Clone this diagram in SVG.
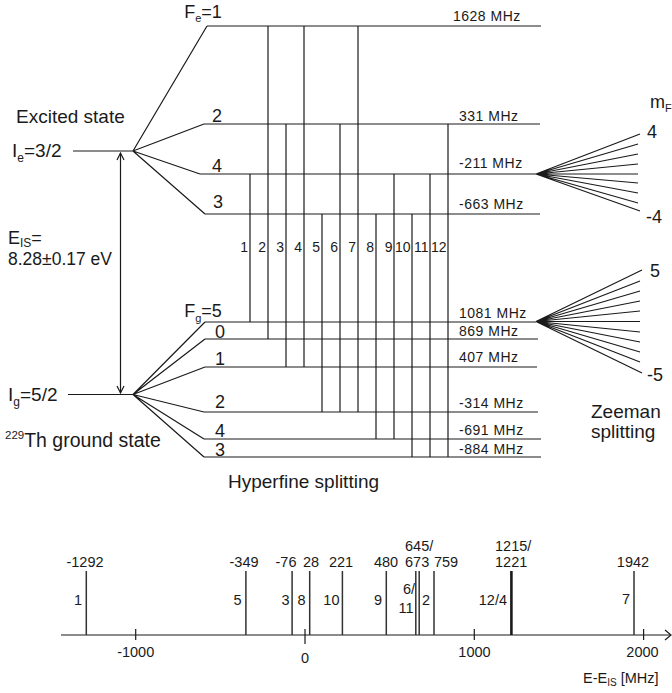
<svg xmlns="http://www.w3.org/2000/svg" width="672" height="693" viewBox="0 0 672 693">
<style>
  .ln{stroke:#1a1a1a;stroke-width:1.2;fill:none}
  .sp{stroke:#333;stroke-width:1.5;fill:none}
  text{font-family:"Liberation Sans",Arial,sans-serif;fill:#1a1a1a}
  .big{font-size:19px}
  .lvl{font-size:18px;text-anchor:middle}
  .mhz{font-size:14px;letter-spacing:0.5px}
  .num{font-size:14px;text-anchor:end}
  .ax{font-size:14.5px;text-anchor:middle}
  .sl{font-size:14.5px;text-anchor:end}
</style>
<rect width="672" height="693" fill="#fff"/>

<g id="excited-state">
  <text class="big" x="16" y="123">Excited state</text>
  <text class="big" x="12" y="157">I<tspan font-size="12" dy="5">e</tspan><tspan dy="-5">=3/2</tspan></text>
  <line class="ln" x1="73" y1="151" x2="133" y2="151"/>
  <path class="ln" d="M133,151 L207,26 M133,151 L204,124 M133,151 L200,174 M133,151 L205,214"/>
</g>

<g id="excited-F1">
  <line class="ln" x1="207" y1="26" x2="541" y2="26"/>
  <text class="lvl" x="203" y="18">F<tspan font-size="11" dy="4">e</tspan><tspan dy="-4">=1</tspan></text>
  <text class="mhz" x="453" y="21">1628 MHz</text>
</g>
<g id="excited-F2">
  <line class="ln" x1="204" y1="124" x2="540" y2="124"/>
  <text class="lvl" x="217" y="122">2</text>
  <text class="mhz" x="459" y="121">331 MHz</text>
</g>
<g id="excited-F4">
  <line class="ln" x1="200" y1="174" x2="536" y2="174"/>
  <text class="lvl" x="217" y="172">4</text>
  <text class="mhz" x="459" y="168">-211 MHz</text>
</g>
<g id="excited-F3">
  <line class="ln" x1="205" y1="214" x2="540" y2="214"/>
  <text class="lvl" x="218" y="208">3</text>
  <text class="mhz" x="459" y="209">-663 MHz</text>
</g>

<g id="isomer-energy">
  <line class="ln" x1="120.5" y1="153" x2="120.5" y2="393"/>
  <path class="ln" d="M117,160 L120.5,153 L124,160 M117,386 L120.5,393 L124,386"/>
  <text font-size="18" x="8" y="244">E<tspan font-size="12" dy="3">IS</tspan><tspan dy="-3">=</tspan></text>
  <text font-size="17.5" x="8" y="265">8.28±0.17 eV</text>
</g>

<g id="ground-state">
  <text class="big" x="8" y="400.5">I<tspan font-size="12" dy="5">g</tspan><tspan dy="-5">=5/2</tspan></text>
  <line class="ln" x1="68" y1="394.5" x2="133" y2="394.5"/>
  <text x="5" y="447"><tspan font-size="11.5" dy="-8">229</tspan><tspan font-size="19.5" dy="8">Th ground state</tspan></text>
  <path class="ln" d="M133,394.5 L205,322 M133,394.5 L205,339 M133,394.5 L205,367 M133,394.5 L204,412 M133,394.5 L204,439 M133,394.5 L204,457"/>
</g>

<g id="ground-F5">
  <line class="ln" x1="205" y1="322" x2="536" y2="322"/>
  <text class="lvl" x="203" y="317">F<tspan font-size="11" dy="5">g</tspan><tspan dy="-5">=5</tspan></text>
  <text class="mhz" x="459" y="318">1081 MHz</text>
</g>
<g id="ground-F0">
  <line class="ln" x1="205" y1="339" x2="538" y2="339"/>
  <text class="lvl" x="220" y="338">0</text>
  <text class="mhz" x="459" y="336">869 MHz</text>
</g>
<g id="ground-F1">
  <line class="ln" x1="205" y1="367" x2="537" y2="367"/>
  <text class="lvl" x="220" y="365">1</text>
  <text class="mhz" x="459" y="362">407 MHz</text>
</g>
<g id="ground-F2">
  <line class="ln" x1="204" y1="412" x2="538" y2="412"/>
  <text class="lvl" x="220" y="408">2</text>
  <text class="mhz" x="459" y="408">-314 MHz</text>
</g>
<g id="ground-F4">
  <line class="ln" x1="204" y1="439" x2="541" y2="439"/>
  <text class="lvl" x="220" y="436.5">4</text>
  <text class="mhz" x="459" y="435">-691 MHz</text>
</g>
<g id="ground-F3">
  <line class="ln" x1="204" y1="457" x2="541" y2="457"/>
  <text class="lvl" x="220" y="456">3</text>
  <text class="mhz" x="459" y="454">-884 MHz</text>
</g>

<g id="transitions">
  <line class="ln" x1="250" y1="174" x2="250" y2="322"/>
  <line class="ln" x1="268" y1="26" x2="268" y2="339"/>
  <line class="ln" x1="286" y1="124" x2="286" y2="367"/>
  <line class="ln" x1="304" y1="26" x2="304" y2="367"/>
  <line class="ln" x1="322" y1="214" x2="322" y2="412"/>
  <line class="ln" x1="340" y1="124" x2="340" y2="412"/>
  <line class="ln" x1="358" y1="26" x2="358" y2="412"/>
  <line class="ln" x1="376" y1="214" x2="376" y2="439"/>
  <line class="ln" x1="394" y1="174" x2="394" y2="439"/>
  <line class="ln" x1="412" y1="214" x2="412" y2="457"/>
  <line class="ln" x1="430" y1="174" x2="430" y2="457"/>
  <line class="ln" x1="448" y1="124" x2="448" y2="457"/>
  <g class="num">
    <text x="248" y="252">1</text>
    <text x="266" y="252">2</text>
    <text x="284" y="252">3</text>
    <text x="302" y="252">4</text>
    <text x="320" y="252">5</text>
    <text x="338" y="252">6</text>
    <text x="356" y="252">7</text>
    <text x="374" y="252">8</text>
    <text x="392.5" y="252">9</text>
    <text x="410.5" y="252">10</text>
    <text x="428.5" y="252">11</text>
    <text x="446.5" y="252">12</text>
  </g>
</g>

<text class="big" x="228" y="488">Hyperfine splitting</text>

<g id="zeeman-excited">
  <path class="ln" d="M536,174 L640,134 M536,174 L638,144 M536,174 L638,154 M536,174 L638,164 M536,174 L638,174 M536,174 L638,183 M536,174 L638,193 M536,174 L638,203 M536,174 L640,211"/>
  <text font-size="18" x="650" y="108">m<tspan font-size="11" dy="4">F</tspan></text>
  <text font-size="18" x="647" y="138">4</text>
  <text font-size="18" x="646" y="223">-4</text>
</g>

<g id="zeeman-ground">
  <path class="ln" d="M536,321.5 L642,270 M536,321.5 L640,281 M536,321.5 L640,291 M536,321.5 L640,301 M536,321.5 L640,311 M536,321.5 L640,321.5 M536,321.5 L640,332 M536,321.5 L640,342 M536,321.5 L640,352 M536,321.5 L640,362 M536,321.5 L642,373"/>
  <text font-size="18" x="650" y="277">5</text>
  <text font-size="18" x="647" y="381">-5</text>
  <text font-size="19" x="591" y="418">Zeeman</text>
  <text font-size="19" x="591" y="438">splitting</text>
</g>

<g id="spectrum">
  <line class="ln" x1="61" y1="635" x2="671" y2="635"/>
  <path class="ln" d="M665,630 L671,635 L665,640"/>
  <path class="ln" d="M135.7,629 V640 M305,629 V644 M474.3,629 V640 M643.6,629 V640"/>
  <text class="ax" x="135.7" y="657">-1000</text>
  <text class="ax" x="305" y="663" font-size="17">0</text>
  <text class="ax" x="474.5" y="657">1000</text>
  <text class="ax" x="642.5" y="657">2000</text>
  <text font-size="14.5" x="583" y="683">E-E<tspan font-size="10" dy="3">IS</tspan><tspan dy="-3"> [MHz]</tspan></text>

  <path class="sp" d="M86.3,571 V635 M245.9,571 V635 M292.1,571 V635 M309.7,571 V635 M342.4,571 V635 M386.3,571 V635 M415.8,571 V635 M419.2,571 V635 M434,571 V635 M634,571 V635"/>
  <line x1="511.4" y1="571" x2="511.4" y2="635" stroke="#1a1a1a" stroke-width="2.6"/>

  <g font-size="14.5" text-anchor="middle">
    <text x="85" y="567">-1292</text>
    <text x="244" y="567">-349</text>
    <text x="286" y="567">-76</text>
    <text x="311" y="567">28</text>
    <text x="341" y="567">221</text>
    <text x="386" y="567">480</text>
    <text x="446" y="567">759</text>
    <text x="633" y="567">1942</text>
  </g>
  <text font-size="14.5" x="405" y="551">645/</text>
  <text font-size="14.5" x="405" y="567">673</text>
  <text font-size="14.5" x="495" y="551">1215/</text>
  <text font-size="14.5" x="495" y="567">1221</text>

  <g class="sl">
    <text x="82" y="605">1</text>
    <text x="241.5" y="605">5</text>
    <text x="289.5" y="605">3</text>
    <text x="305.5" y="605">8</text>
    <text x="339.5" y="605">10</text>
    <text x="382" y="605">9</text>
    <text x="415" y="594">6/</text>
    <text x="413.5" y="613">11</text>
    <text x="430" y="605">2</text>
    <text x="507" y="605">12/4</text>
    <text x="630" y="604">7</text>
  </g>
</g>
</svg>
